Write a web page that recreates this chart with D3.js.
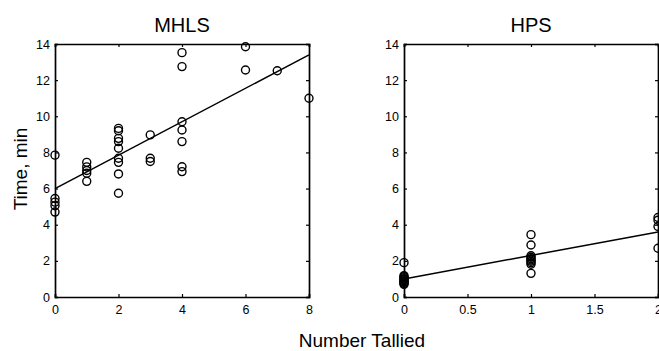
<!DOCTYPE html>
<html><head><meta charset="utf-8">
<script src="https://cdn.jsdelivr.net/npm/d3@7"></script>
<style>
html,body{margin:0;padding:0;background:#fff;}
svg{display:block;font-family:"Liberation Sans",Arial,sans-serif;}
</style></head>
<body>
<svg id="chart" width="659" height="351"></svg>
<script>
// ---- data ----
const mhlsX = [0,0,0,0,0, 1,1,1,1,1, 2,2,2,2,2,2,2,2,2, 3,3,3, 4,4,4,4,4,4,4, 6,6, 7, 8];
const mhlsY = [7.85,5.45,5.25,5.05,4.7, 7.45,7.2,7.0,6.85,6.4, 9.33,9.2,8.78,8.6,8.23,7.68,7.45,6.81,5.74, 8.97,7.68,7.5, 13.52,12.75,9.7,9.24,8.6,7.21,6.94, 13.85,12.56, 12.52, 11.0];
const mhlsFitX = [0, 8];
const mhlsFitY = [6.0, 13.4];

const hpsX = [0,0,0,0,0,0,0,0,0,0,0, 1,1,1,1,1,1,1,1,1,1, 2,2,2,2];
const hpsY = [1.9,1.18,1.12,1.06,1.0,0.95,0.9,0.85,0.8,0.75,0.7, 3.45,2.88,2.28,2.2,2.12,2.05,1.98,1.9,1.81,1.31, 4.4,4.25,3.9,2.7];
const hpsFitX = [0, 2];
const hpsFitY = [1.0, 3.6];

const yTicks = [0,2,4,6,8,10,12,14];
const mhlsXTicks = [0,2,4,6,8];
const hpsXTicks = [0,0.5,1,1.5,2];
const titles = ["MHLS","HPS"];

// ---- drawing ----
const svg = d3.select("#chart");
const plotTop = 44, plotBottom = 297;

function panel(x0, x1, xDomain, xTicks, xs, ys, fx, fy, title){
  const x = d3.scaleLinear().domain(xDomain).range([x0, x1]);
  const y = d3.scaleLinear().domain([0,14]).range([plotBottom, plotTop]);
  const g = svg.append("g");
  const tl = 3;
  const axB = d3.axisBottom(x).tickValues(xTicks).tickSize(-tl).tickPadding(8).tickFormat(d3.format("~g"));
  const axT = d3.axisTop(x).tickValues(xTicks).tickSize(-tl).tickFormat("");
  const axL = d3.axisLeft(y).tickValues(yTicks).tickSize(-tl).tickPadding(5);
  const axR = d3.axisRight(y).tickValues(yTicks).tickSize(-tl).tickFormat("");
  [[axB,`translate(0,${plotBottom})`],[axT,`translate(0,${plotTop})`],[axL,`translate(${x0},0)`],[axR,`translate(${x1},0)`]].forEach(([a,t])=>{
    const s = g.append("g").attr("transform", t).call(a);
    s.select(".domain").attr("stroke","#000").attr("stroke-width",1.7);
    s.selectAll(".tick line").attr("stroke","#000").attr("stroke-width",1.2);
    s.selectAll("text").attr("fill","#000").attr("font-size",12.5).attr("font-family","Liberation Sans, Arial, sans-serif");
  });
  g.append("path")
    .datum(fx.map((v,i)=>[v, fy[i]]))
    .attr("d", d3.line().x(d=>x(d[0])).y(d=>y(d[1])))
    .attr("fill","none").attr("stroke","#000").attr("stroke-width",1.5);
  g.selectAll("circle.pt").data(xs.map((v,i)=>[v, ys[i]])).join("circle")
    .attr("class","pt")
    .attr("cx", d=>x(d[0])).attr("cy", d=>y(d[1])).attr("r",4)
    .attr("fill","none").attr("stroke","#000").attr("stroke-width",1.4);
  svg.append("text").attr("x",(x0+x1)/2).attr("y",32).attr("text-anchor","middle")
    .attr("font-size",20).attr("fill","#000").text(title);
}

panel(55, 309, [0,8], mhlsXTicks, mhlsX, mhlsY, mhlsFitX, mhlsFitY, titles[0]);
panel(404, 658, [0,2], hpsXTicks, hpsX, hpsY, hpsFitX, hpsFitY, titles[1]);

svg.append("text").attr("transform","translate(27,169) rotate(-90)").attr("text-anchor","middle")
  .attr("font-size",19).attr("fill","#000").text("Time, min");
svg.append("text").attr("x",362).attr("y",347).attr("text-anchor","middle")
  .attr("font-size",19).attr("fill","#000").text("Number Tallied");
</script>
</body></html>
